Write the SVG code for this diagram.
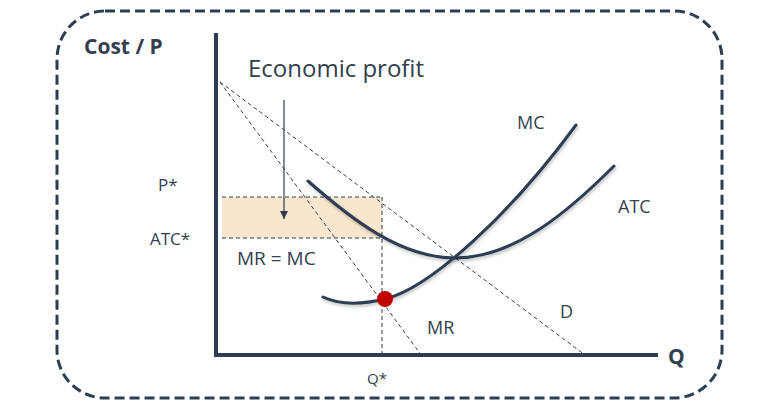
<svg xmlns="http://www.w3.org/2000/svg" width="762" height="409" viewBox="0 0 762 409">
<defs>
<style>
.t{font-family:"Open Sans","Noto Sans","Liberation Sans",sans-serif;fill:#333f50}
.b{font-weight:bold}
.dash{stroke:#333f50;stroke-width:1;stroke-dasharray:4 3;fill:none}
.curve{stroke:#2e3e52;stroke-width:3;fill:none;stroke-linecap:round;filter:url(#sh)}
.axis{stroke:#2e3e52;stroke-width:4;fill:none}
</style>
<filter id="sh" x="-10%" y="-10%" width="120%" height="130%">
<feDropShadow dx="1" dy="2" stdDeviation="1.5" flood-color="#000" flood-opacity="0.25"/>
</filter>
<marker id="ah" viewBox="0 0 10 10" refX="10" refY="5" markerWidth="8" markerHeight="8" markerUnits="userSpaceOnUse" orient="auto">
<path d="M0,0 L10,5 L0,10 Z" fill="#2e3e52"/>
</marker>
</defs>
<rect x="57" y="11" width="665" height="387" rx="48" ry="48" fill="none" stroke="#2e3e52" stroke-width="3" stroke-dasharray="10 5"/>
<g id="profit-area">
<rect x="222" y="197" width="160" height="41" fill="#f8e6ce"/>
<line class="dash" x1="222" y1="197" x2="382" y2="197"/>
<line class="dash" x1="222" y1="238" x2="382" y2="238"/>
</g>
<g id="connectors">
<line class="dash" x1="220" y1="82" x2="585" y2="355"/>
<line class="dash" x1="220" y1="82" x2="422" y2="356"/>
<line class="dash" x1="382" y1="197" x2="382" y2="355"/>
<line x1="284" y1="100" x2="284" y2="219" stroke="#2e3e52" stroke-width="1.2" marker-end="url(#ah)"/>
</g>
<g id="axes">
<line class="axis" x1="216" y1="33" x2="216" y2="357"/>
<line class="axis" x1="214" y1="355" x2="658" y2="355"/>
</g>
<g id="atc-curve">
<path class="curve" d="M308,181 C350,218 400,258 455,258 C515,258 570,210 614,166"/>
</g>
<g id="mc-curve">
<path class="curve" d="M323,297 C340,305 360,305 385,299 C430,288 510,215 576,125"/>
</g>
<g id="equilibrium">
<circle cx="385" cy="299" r="8" fill="#c00000"/>
</g>
<g id="labels">
<text class="t b" x="84" y="54" font-size="21">Cost / P</text>
<text class="t b" x="668" y="364" font-size="21">Q</text>
<text class="t" x="248" y="77" font-size="24">Economic profit</text>
<text class="t" x="158" y="191" font-size="17">P*</text>
<text class="t" x="150" y="245" font-size="17">ATC*</text>
<text class="t" x="237" y="265" font-size="19">MR = MC</text>
<text class="t" x="367" y="384" font-size="15">Q*</text>
<text class="t" x="427" y="334" font-size="18">MR</text>
<text class="t" x="560" y="318" font-size="18">D</text>
<text class="t" x="517" y="129" font-size="18">MC</text>
<text class="t" x="618" y="213" font-size="18">ATC</text>
</g>
</svg>
